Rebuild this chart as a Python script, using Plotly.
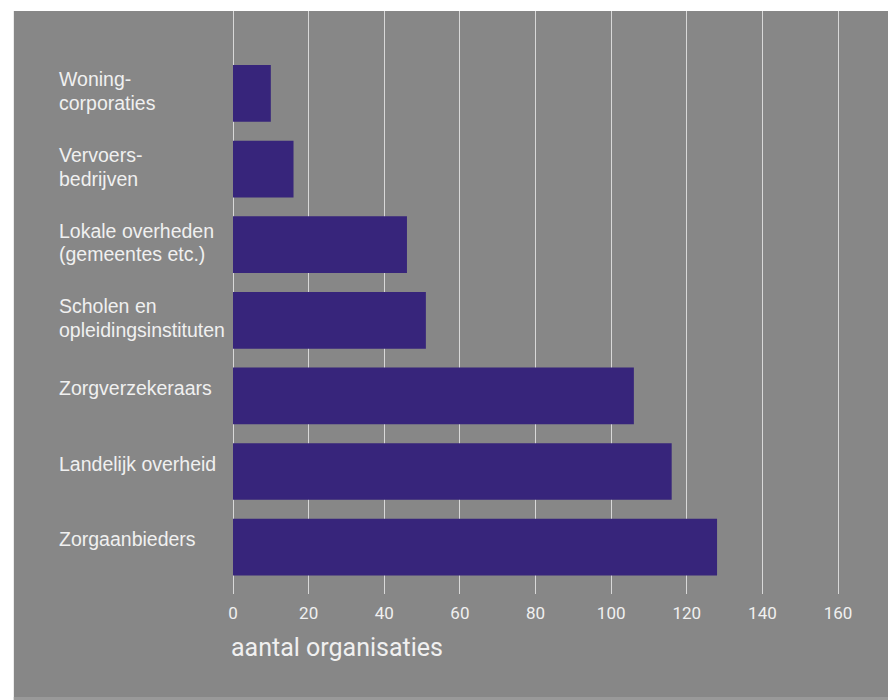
import plotly.graph_objects as go

# Organisation types, listed top to bottom as they appear (lines split for wrapping)
categories = [
    ["Woning-", "corporaties"],
    ["Vervoers-", "bedrijven"],
    ["Lokale overheden", "(gemeentes etc.)"],
    ["Scholen en", "opleidingsinstituten"],
    ["Zorgverzekeraars"],
    ["Landelijk overheid"],
    ["Zorgaanbieders"],
]
counts = [10, 16, 46, 51, 106, 116, 128]
tick_values = [0, 20, 40, 60, 80, 100, 120, 140, 160]
axis_title = "aantal organisaties"

BG = "#878787"
BAR = "#37257b"
TXT = "#f0f0f0"
GRID = "#d8d8d8"

# bottom category sits at position 0
n = len(categories)
ypos = [n - 1 - i for i in range(n)]

fig = go.Figure()
fig.add_trace(go.Bar(
    x=counts, y=ypos, orientation="h",
    marker=dict(color=BAR, line=dict(width=0)),
    width=0.75, hoverinfo="x",
))

label_font = dict(family="Liberation Sans, Arial", size=19.5, color=TXT)
annotations = []
for lines, y in zip(categories, ypos):
    shifts = [8] if len(lines) == 1 else [14, -9.5]
    for text, shift in zip(lines, shifts):
        annotations.append(dict(
            x=-0.2656, xref="paper", xshift=-2, y=y, yref="y", yshift=shift,
            text=text, showarrow=False, xanchor="left", yanchor="middle",
            align="left", font=label_font,
        ))
annotations.append(dict(
    x=0, xref="paper", xshift=-4, y=-0.0926, yref="paper",
    text=axis_title, showarrow=False, xanchor="left", yanchor="middle",
    font=dict(family="Roboto", size=25, color=TXT),
))

shapes = [
    # white frame strips at the top and left edge
    dict(type="rect", xref="paper", yref="paper", x0=-0.4, x1=1.1,
         y0=1.0, y1=1.1, fillcolor="white", line=dict(width=0), layer="below"),
    dict(type="rect", xref="paper", yref="paper", x0=-0.4, x1=-0.3346,
         y0=-0.3, y1=1.1, fillcolor="white", line=dict(width=0), layer="below"),
    # lighter strip along the bottom edge
    dict(type="rect", xref="paper", yref="paper", x0=-0.3346, x1=1.1,
         y0=-0.2, y1=-0.1767, fillcolor="#999999", line=dict(width=0), layer="below"),
]

fig.update_layout(
    width=888, height=700,
    margin=dict(l=233, r=0, t=11, b=106),
    paper_bgcolor=BG, plot_bgcolor=BG,
    showlegend=False,
    xaxis=dict(
        range=[0, 173.2], tickvals=tick_values,
        showgrid=True, gridcolor=GRID, gridwidth=1,
        zeroline=True, zerolinecolor=GRID, zerolinewidth=1,
        showline=False, ticks="", ticklabelstandoff=7,
        tickfont=dict(family="Roboto", size=17, color=TXT),
        fixedrange=True,
    ),
    yaxis=dict(
        range=[-0.62, 7.09], showticklabels=False, showgrid=False,
        zeroline=False, showline=False, ticks="", fixedrange=True,
    ),
    annotations=annotations,
    shapes=shapes,
)

fig.write_html("out.html")
